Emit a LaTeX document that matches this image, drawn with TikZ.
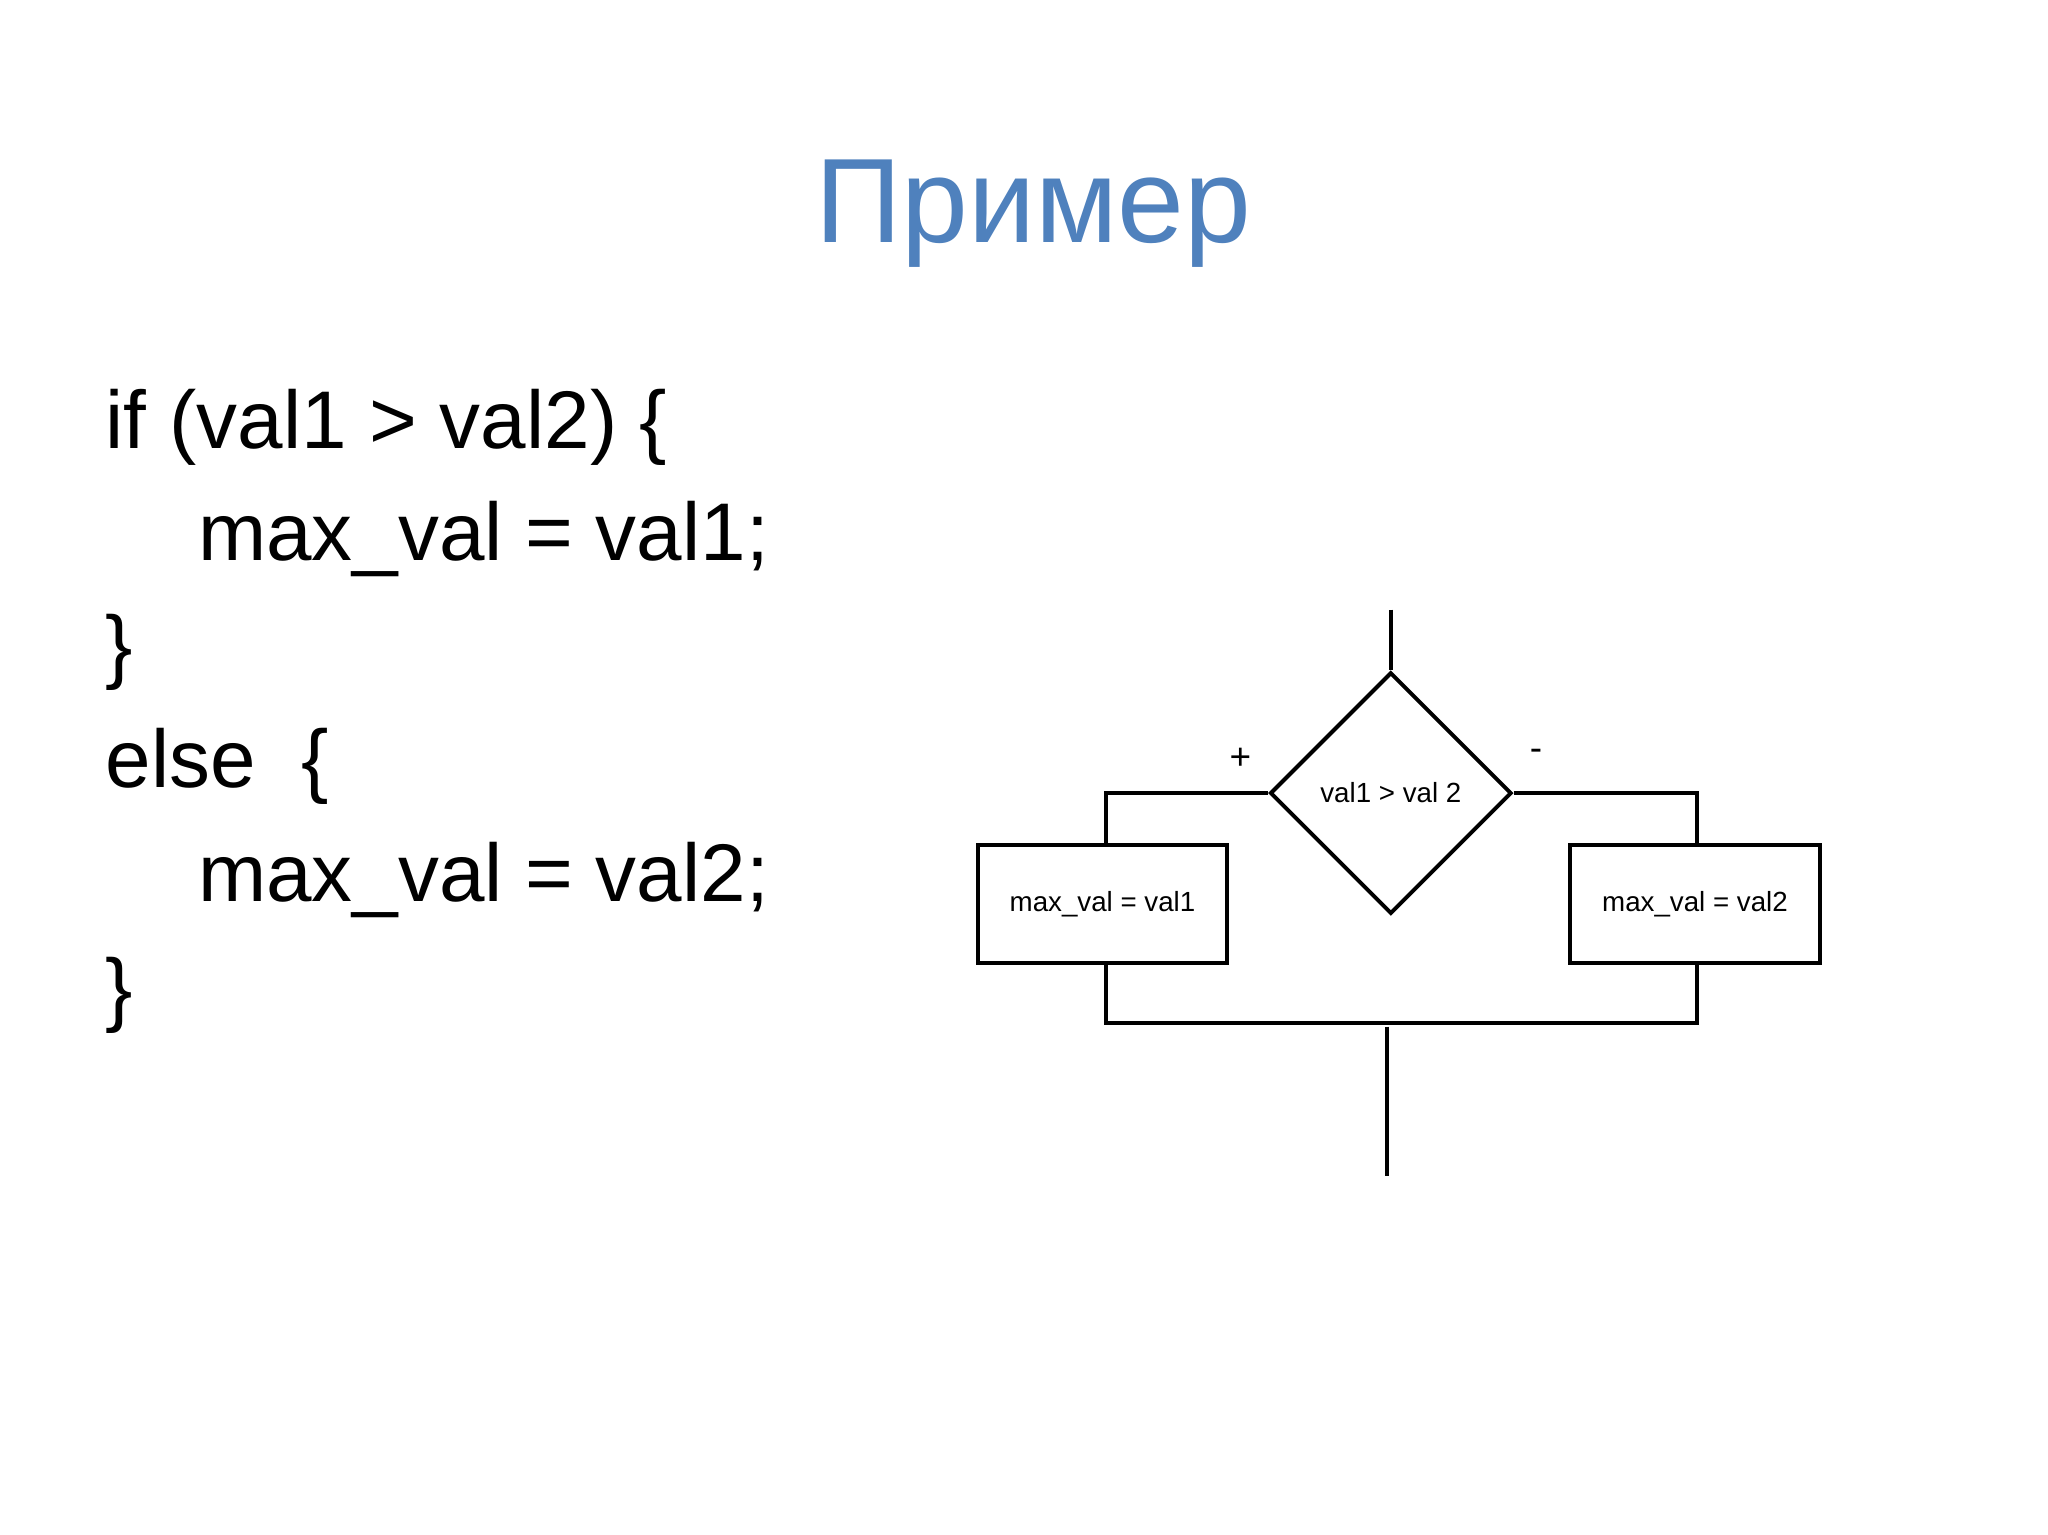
\documentclass[tikz,border=0pt]{standalone}
\usepackage{fontspec}
\setmainfont{Liberation Sans}
\usetikzlibrary{shapes.geometric}
\definecolor{titleblue}{RGB}{79,129,189}
\begin{document}
\begin{tikzpicture}[x=1pt,y=-1pt,
  code/.style={anchor=base west,inner sep=0,font=\fontsize{62}{70}\selectfont},
  ln/.style={line width=3pt},
  box/.style={draw,line width=3pt,minimum width=189pt,minimum height=90pt,inner sep=0,font=\fontsize{21}{24}\selectfont},
  dec/.style={draw,line width=3pt,diamond,minimum width=183pt,minimum height=183pt,inner sep=0,font=\fontsize{21}{24}\selectfont}]
\useasboundingbox (0,0) rectangle (1552,1163);
\node[text=titleblue,font=\fontsize{91}{100}\selectfont,anchor=base,inner sep=0] (title) at (783,184) {Пример};
\node[code] (c1) at (80,340) {if (val1 > val2) \{};
\node[code] (c2) at (150,425) {max\_val = val1;};
\node[code] (c3) at (80,510) {\}};
\node[code] (c4) at (80,597) {else\ \ \{};
\node[code] (c5) at (150,683) {max\_val = val2;};
\node[code] (c6) at (80,770) {\}};
\node[dec] (d) at (1054,601) {val1 > val 2};
\node[box] (b1) at (835.5,685) {max\_val = val1};
\node[box] (b2) at (1284.5,685) {max\_val = val2};
\coordinate (top) at (1054,462);
\coordinate (bot) at (1051,891);
\coordinate (mid) at (1051,775);
\draw[ln] (top) -- (d.north);
\draw[ln] (d.west) -| (b1.north -| 838,0);
\draw[ln] (d.east) -| (b2.north -| 1286,0);
\draw[ln] (b1.south -| 838,0) |- (mid) -| (b2.south -| 1286,0);
\draw[ln] (1051,778) -- (bot);
\node[font=\fontsize{28}{30}\selectfont,inner sep=0] (plus) at (940,575) {+};
\node[font=\fontsize{28}{30}\selectfont,inner sep=0] (minus) at (1164,572) {-};
\end{tikzpicture}
\end{document}
